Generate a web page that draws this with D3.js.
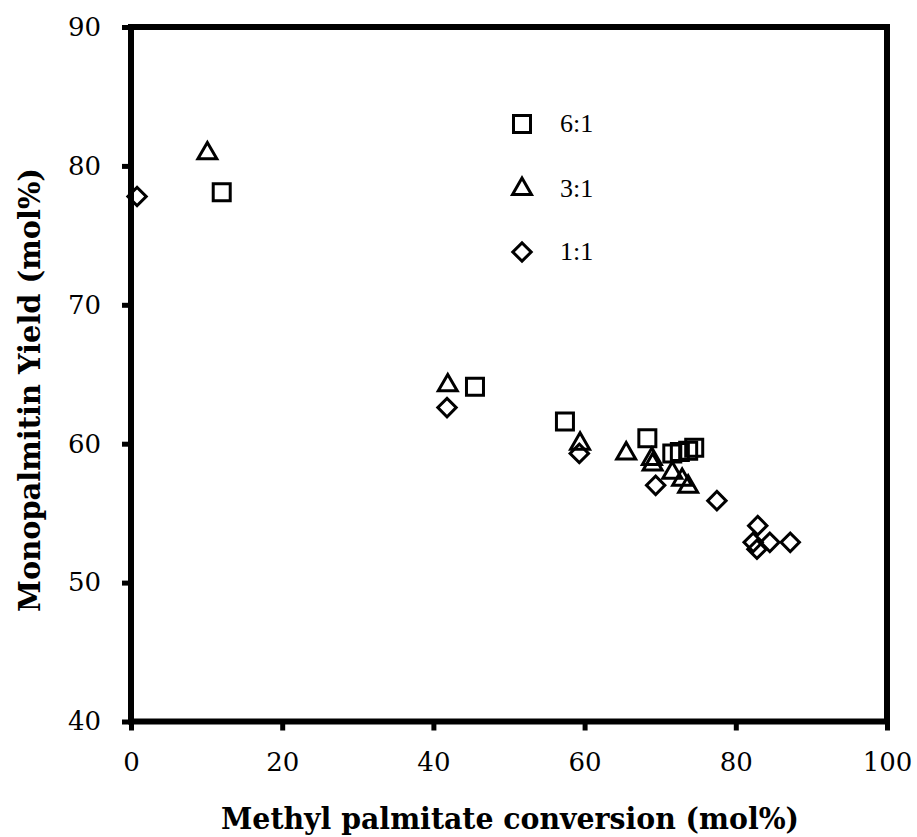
<!DOCTYPE html>
<html>
<head>
<meta charset="utf-8">
<script src="https://cdn.jsdelivr.net/npm/d3@7/dist/d3.min.js"></script>
<style>
  html, body { margin: 0; padding: 0; background: #fff; }
  svg { display: block; }
</style>
</head>
<body>
<svg id="chart" width="917" height="837"></svg>
<script>
// Molar ratio series: methyl palmitate conversion (x) vs monopalmitin yield (y), mol%
const ratio61X = [12.0, 45.5, 57.4, 68.3, 71.6, 72.6, 73.7, 74.5];
const ratio61Y = [78.1, 64.1, 61.6, 60.4, 59.3, 59.4, 59.5, 59.7];

const ratio31X = [10.1, 41.9, 59.4, 65.5, 68.9, 69.0, 71.6, 72.9, 73.7];
const ratio31Y = [80.9, 64.2, 60.0, 59.3, 58.9, 58.5, 57.9, 57.4, 56.9];

const ratio11X = [0.8, 41.8, 59.3, 69.4, 77.5, 82.9, 82.3, 82.8, 84.5, 87.2];
const ratio11Y = [77.8, 62.6, 59.3, 57.0, 55.9, 54.1, 52.9, 52.4, 52.9, 52.9];

const seriesNames = ["6:1", "3:1", "1:1"];
const xTicks = [0, 20, 40, 60, 80, 100];
const yTicks = [40, 50, 60, 70, 80, 90];

const svg = d3.select("#chart");
const plotLeft = 131, plotRight = 887, plotTop = 27, plotBottom = 721.5;

const x = d3.scaleLinear().domain([0, 100]).range([plotLeft, plotRight]);
const y = d3.scaleLinear().domain([40, 90]).range([plotBottom, plotTop]);

const serif = "'DejaVu Serif', serif";

// Marker shapes
const squarePath = d3.symbol().type(d3.symbolSquare).size(17 * 17)();
const trianglePath = d3.symbol().type(d3.symbolTriangle).size(155)();
const diamondPath = d3.symbol().type(d3.symbolSquare).size(13 * 13)();

const series = [
  { name: seriesNames[0], xs: ratio61X, ys: ratio61Y, path: squarePath, rot: 0 },
  { name: seriesNames[1], xs: ratio31X, ys: ratio31Y, path: trianglePath, rot: 0 },
  { name: seriesNames[2], xs: ratio11X, ys: ratio11Y, path: diamondPath, rot: 45 }
];

// Axes (ticks outward)
const xAxis = d3.axisBottom(x).tickValues(xTicks).tickSize(9).tickPadding(22).tickFormat(d3.format("d"));
const yAxis = d3.axisLeft(y).tickValues(yTicks).tickSize(9).tickPadding(21).tickFormat(d3.format("d"));

const gx = svg.append("g").attr("transform", `translate(0,${plotBottom})`).call(xAxis);
const gy = svg.append("g").attr("transform", `translate(${plotLeft},0)`).call(yAxis);

[gx, gy].forEach(g => {
  g.select(".domain").remove();
  g.selectAll(".tick line").attr("stroke", "#000").attr("stroke-width", 5);
  g.selectAll(".tick text")
    .attr("fill", "#000")
    .style("font-family", serif)
    .style("font-size", "26px");
});

// Frame around the plot area
svg.append("rect")
  .attr("x", plotLeft).attr("y", plotTop)
  .attr("width", plotRight - plotLeft).attr("height", plotBottom - plotTop)
  .attr("fill", "none").attr("stroke", "#000").attr("stroke-width", 6);

// Data markers
series.forEach(s => {
  svg.append("g").selectAll("path")
    .data(s.xs.map((v, i) => [v, s.ys[i]]))
    .join("path")
    .attr("d", s.path)
    .attr("transform", d => `translate(${x(d[0])},${y(d[1])}) rotate(${s.rot})`)
    .attr("fill", "none")
    .attr("stroke", "#000")
    .attr("stroke-width", 3);
});

// Legend
const legend = svg.append("g");
const legendY = [124, 189, 252];
series.forEach((s, i) => {
  const ly = legendY[i];
  legend.append("path")
    .attr("d", s.path)
    .attr("transform", `translate(522,${ly}) rotate(${s.rot})`)
    .attr("fill", "none").attr("stroke", "#000").attr("stroke-width", 3);
  legend.append("text")
    .attr("x", 560).attr("y", ly + 8)
    .style("font-family", "'Liberation Serif', serif")
    .style("font-size", "26px")
    .text(s.name);
});

// Axis titles
svg.append("text")
  .attr("x", 510).attr("y", 829)
  .attr("text-anchor", "middle")
  .style("font-family", serif)
  .style("font-size", "29px")
  .style("font-weight", "bold")
  .attr("textLength", 578)
  .attr("lengthAdjust", "spacingAndGlyphs")
  .text("Methyl palmitate conversion (mol%)");

svg.append("text")
  .attr("transform", "translate(40,390) rotate(-90)")
  .attr("text-anchor", "middle")
  .style("font-family", serif)
  .style("font-size", "29px")
  .style("font-weight", "bold")
  .attr("textLength", 444)
  .attr("lengthAdjust", "spacingAndGlyphs")
  .text("Monopalmitin Yield (mol%)");
</script>
</body>
</html>
